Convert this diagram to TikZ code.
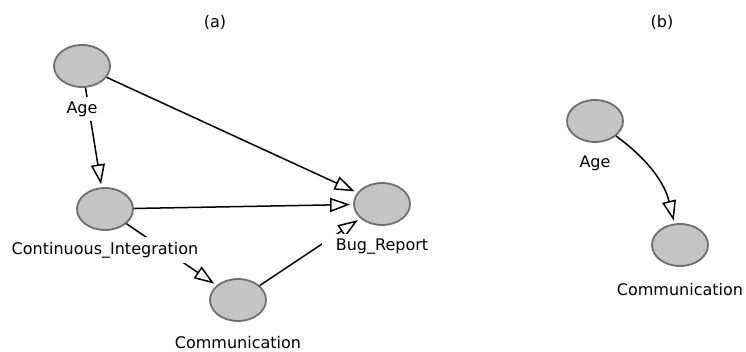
\documentclass[tikz,border=0pt]{standalone}
\usepackage{fontspec}
\setmainfont{DejaVu Sans}
\usetikzlibrary{arrows.meta,positioning,shapes.geometric}
\definecolor{knoten}{HTML}{C4C4C4}
\definecolor{rand}{HTML}{6E6E6E}
\tikzset{
	var/.style={ellipse, draw=rand, fill=knoten, line width=1.8pt, minimum width=56pt, minimum height=42pt, inner sep=0},
	beschriftung/.style={fill=white, inner xsep=14pt, inner ysep=5pt, font=\fontsize{16}{19}\selectfont},
	kante/.style={-{Triangle[open,length=20pt,width=14pt]}, line width=1.5pt, shorten >=3pt}
}
\begin{document}
\begin{tikzpicture}[node distance=43pt]
		\useasboundingbox (0pt,0pt) rectangle (746pt,-352pt);
		% titles
		\node[beschriftung] (titelA) at (215pt,-22pt) {(a)};
		\node[beschriftung] (titelB) at (662pt,-22pt) {(b)};
		
		% nodes (a)
		\node[var] (age) at (82pt,-66pt) {};
		\node[var] (ci) at (105pt,-209pt) {};
		\node[var] (bug) at (382pt,-204pt) {};
		\node[var] (comm) at (238pt,-300pt) {};
		
		% nodes (b)
		\node[var] (ageB) at (595pt,-121pt) {};
		\node[var] (commB) at (680pt,-245pt) {};
		
		% edges
		\draw[kante] (age) to (ci);
		\draw[kante] (age) to (bug);
		\draw[kante] (ci) to (bug);
		\draw[kante] (ci) to (comm);
		\draw[kante] (comm) to (bug);
		\draw[kante, bend left = 20] (ageB) to (commB);
		
		% labels
		\node[beschriftung, below of = age] (ageText) {Age};
		\node[beschriftung, below of = ci, node distance = 41pt] (ciText) {Continuous\_Integration};
		\node[beschriftung, below of = bug] (bugText) {Bug\_Report};
		\node[beschriftung, below of = comm] (commText) {Communication};
		\node[beschriftung, below of = ageB, node distance = 42pt] (ageBText) {Age};
		\node[beschriftung, below of = commB, node distance = 45pt] (commBText) {Communication};
\end{tikzpicture}
\end{document}
